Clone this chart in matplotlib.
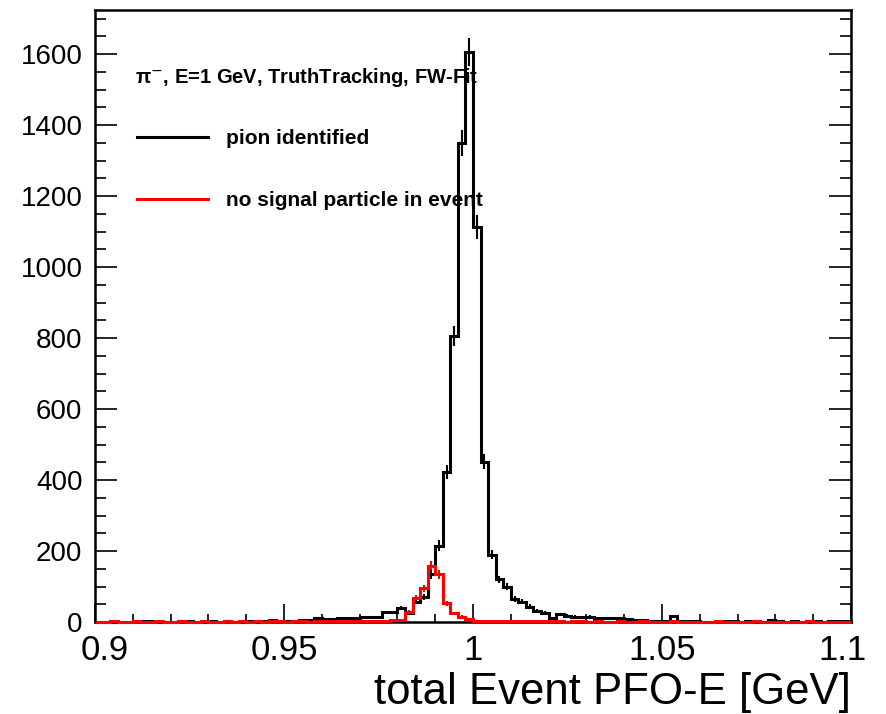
import numpy as np
import matplotlib
matplotlib.use("Agg")
import matplotlib.pyplot as plt
import matplotlib.transforms as mtransforms
from matplotlib.ticker import MultipleLocator, FixedLocator, FixedFormatter

plt.rcParams["font.family"] = ["Liberation Sans", "DejaVu Sans"]

# histogram: 100 bins from 0.9 to 1.1 GeV
x_min, x_max, n_bins = 0.9, 1.1, 100

pion_identified = [
    1, 1, 1, 1, 1, 3, 3, 3, 1, 1,
    1, 4, 4, 1, 1, 2, 1, 3, 1, 1,
    2, 1, 2, 5, 4, 2, 3, 7, 7, 10,
    8, 9, 10, 10, 10, 14, 14, 14, 27, 27,
    40, 25, 57, 71, 134, 215, 423, 805, 1350, 1605,
    1112, 452, 190, 120, 100, 64, 57, 43, 31, 26,
    12, 22, 18, 15, 14, 15, 11, 11, 12, 10,
    8, 7, 7, 4, 4, 4, 17, 3, 2, 2,
    1, 1, 4, 4, 4, 1, 2, 1, 1, 5,
    2, 1, 3, 1, 1, 2, 1, 2, 3, 2,
]

no_signal = [
    1, 1, 2, 1, 1, 2, 1, 1, 2, 1,
    1, 2, 1, 1, 2, 1, 1, 2, 1, 2,
    1, 2, 1, 2, 2, 1, 2, 2, 1, 2,
    2, 2, 3, 2, 2, 3, 3, 3, 4, 5,
    5, 29, 69, 95, 159, 134, 53, 24, 15, 8,
    4, 3, 3, 3, 2, 3, 2, 2, 2, 2,
    2, 2, 1, 2, 2, 1, 2, 1, 1, 2,
    1, 1, 2, 1, 1, 1, 2, 1, 1, 1,
    1, 1, 2, 1, 1, 1, 1, 2, 1, 1,
    1, 1, 1, 1, 2, 1, 1, 1, 1, 1,
]

x_ticks = [0.9, 0.95, 1.0, 1.05, 1.1]
x_tick_labels = ["0.9", "0.95", "1", "1.05", "1.1"]

edges = np.linspace(x_min, x_max, n_bins + 1)
centers = 0.5 * (edges[:-1] + edges[1:])

fig = plt.figure(figsize=(8.87, 7.14), dpi=100)
ax = fig.add_axes([95 / 887, 92 / 714, 756 / 887, 612 / 714])

for counts, color, label, z in [
    (pion_identified, "black", "pion identified", 3),
    (no_signal, "#ff0000", "no signal particle in event", 4),
]:
    counts = np.array(counts, dtype=float)
    ax.stairs(counts, edges, color=color, linewidth=2.2, label=label,
              zorder=z, clip_on=False)
    ax.errorbar(centers, counts, yerr=np.sqrt(counts), fmt="none",
                ecolor=color, elinewidth=1.5, capsize=0, zorder=z)

ax.set_xlim(x_min, x_max)
ax.set_ylim(0, 1724)

ax.xaxis.set_major_locator(FixedLocator(x_ticks))
ax.xaxis.set_major_formatter(FixedFormatter(x_tick_labels))
ax.xaxis.set_minor_locator(MultipleLocator(0.01))
ax.yaxis.set_major_locator(MultipleLocator(200))
ax.yaxis.set_minor_locator(MultipleLocator(50))

ax.tick_params(axis="both", which="both", direction="in", width=1.2)
ax.tick_params(axis="y", which="both", right=True)
ax.tick_params(axis="y", which="major", length=16, labelsize=20, pad=9)
ax.tick_params(axis="y", which="minor", length=8)
ax.tick_params(axis="x", which="major", length=13, labelsize=25, pad=9)
ax.tick_params(axis="x", which="minor", length=6)
for s in ax.spines.values():
    s.set_linewidth(1.8)

# keep the outermost x labels inside the frame edges, as in the original
labels = ax.get_xticklabels()
labels[0].set_transform(labels[0].get_transform()
                        + mtransforms.ScaledTranslation(7 / 72, 0, fig.dpi_scale_trans))
labels[-1].set_transform(labels[-1].get_transform()
                         + mtransforms.ScaledTranslation(-6 / 72, 0, fig.dpi_scale_trans))

ax.set_xlabel("total Event PFO-E [GeV]", fontsize=31.5, loc="right", labelpad=3)

ax.text(0.053, 0.890, "\u03c0$^{-}$, E=1 GeV, TruthTracking, FW-Fit",
        transform=ax.transAxes, fontsize=14.5, fontweight="bold", va="center")

ax.legend(loc="upper left", bbox_to_anchor=(0.056, 0.805), frameon=False,
          prop={"weight": "bold", "size": 15},
          handlelength=3.37, handletextpad=0.87, labelspacing=2.05,
          borderaxespad=0, borderpad=0)

fig.savefig("out.png", dpi=100)
